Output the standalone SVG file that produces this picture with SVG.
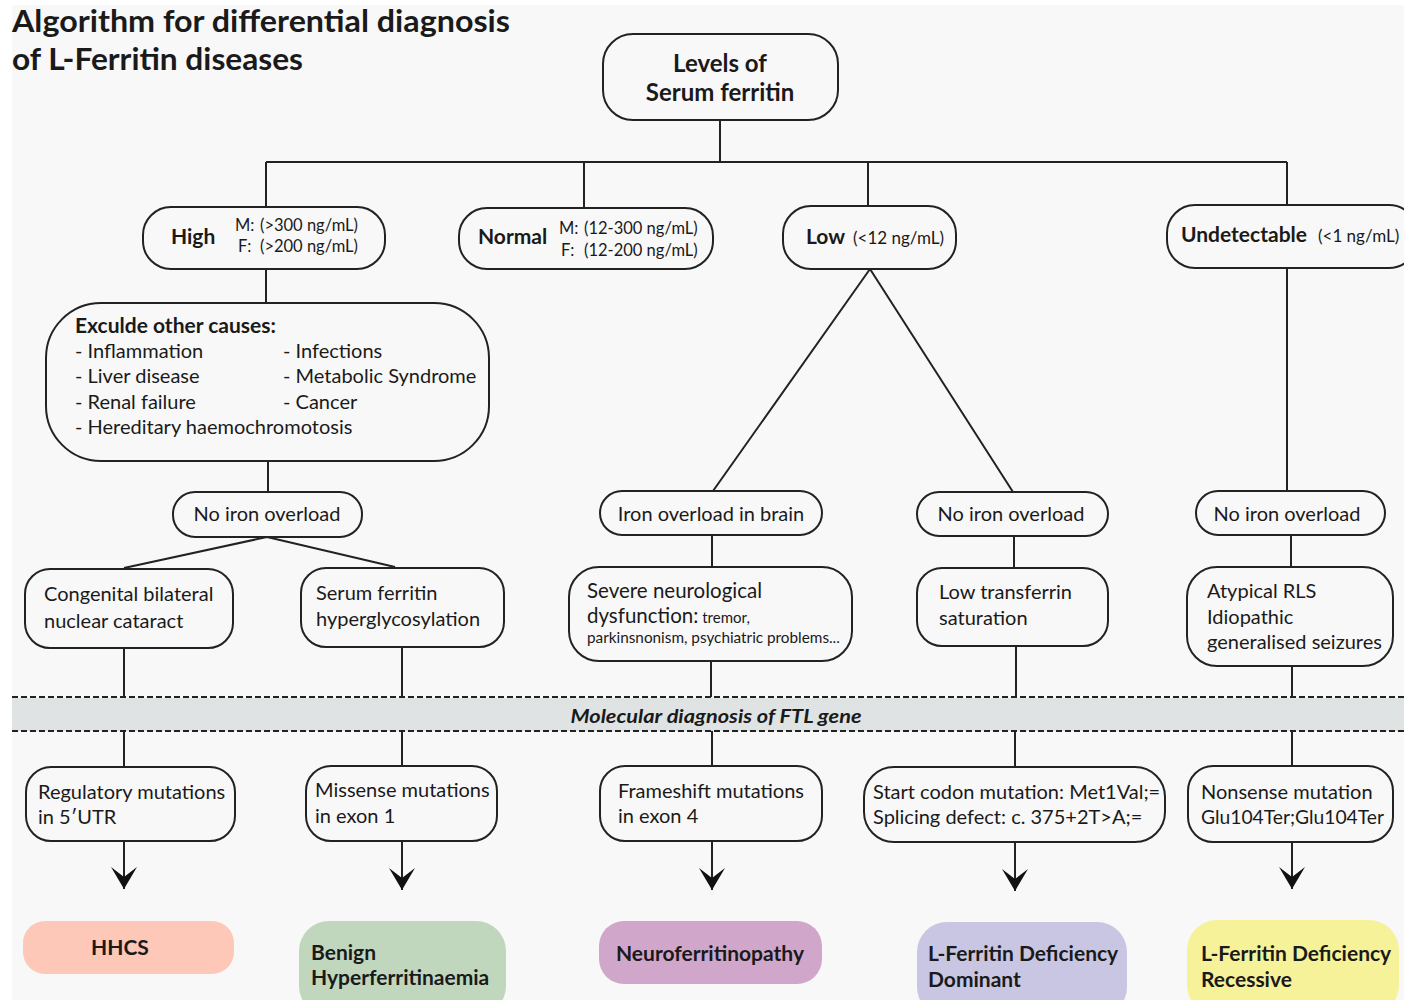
<svg xmlns="http://www.w3.org/2000/svg" width="1404" height="1000" viewBox="0 0 1404 1000">
<defs>
<style>
.bx{fill:none;stroke:#222;stroke-width:2}
.ln{fill:none;stroke:#222;stroke-width:2}
.ds{fill:none;stroke:#222;stroke-width:2;stroke-dasharray:6,3}
text{font-family:"Lato","Liberation Sans",sans-serif;fill:#1a1a1a}
.t{font-size:20px}
.s{font-size:16.5px}
.b{font-weight:bold}
.m{text-anchor:middle}
.bb{font-weight:bold;font-size:21px}
</style>
<marker id="ar" markerUnits="userSpaceOnUse" markerWidth="30" markerHeight="30" viewBox="-25 -15 30 30" refX="0" refY="0" orient="auto">
<path d="M0,0 L-22,-13 L-12,0 L-22,13 Z" fill="#111"/>
</marker>
</defs>
<rect x="0" y="0" width="1404" height="1000" fill="#fff"/>
<rect x="12" y="5" width="1392" height="995" fill="#f8f8f8"/>
<rect x="12" y="698" width="1392" height="33" fill="#dfe3e3"/>

<g id="title">
<text x="12" y="32" class="b" style="font-size:30px" textLength="498" lengthAdjust="spacingAndGlyphs">Algorithm for differential diagnosis</text>
<text x="12" y="70" class="b" style="font-size:30px" textLength="291" lengthAdjust="spacingAndGlyphs">of L-Ferritin diseases</text>
</g>

<g id="connectors">
<path class="ln" d="M720,120 V162 M266,162 H1287 M266,162 V207 M584,162 V208 M868,162 V206 M1287,162 V205"/>
<path class="ln" d="M266,269 V303 M268,461 V492 M267,537 L124,568 M267,537 L395,567"/>
<path class="ln" d="M870,269 L713,491 M870,269 L1013,492 M1287,268 V491"/>
<path class="ln" d="M712,535 V567 M1014,536 V568 M1291,535 V567"/>
<path class="ln" d="M124,648 V697 M402,647 V697 M711,661 V697 M1016,646 V697 M1292,666 V697"/>
<path class="ds" d="M12,697 H1404 M12,731 H1404"/>
<path class="ln" d="M124,731 V767 M402,731 V766 M712,731 V766 M1015,731 V767 M1292,731 V766"/>
<path class="ln" d="M124,841 V889" marker-end="url(#ar)"/>
<path class="ln" d="M402,841 V890" marker-end="url(#ar)"/>
<path class="ln" d="M712,841 V890" marker-end="url(#ar)"/>
<path class="ln" d="M1015,842 V891" marker-end="url(#ar)"/>
<path class="ln" d="M1292,842 V889" marker-end="url(#ar)"/>
</g>

<g id="band">
<text x="716" y="723" class="b m" style="font-size:19px;font-style:italic" textLength="291" lengthAdjust="spacingAndGlyphs">Molecular diagnosis of FTL gene</text>
</g>

<g id="n-levels">
<rect class="bx" x="603" y="34" width="235" height="86" rx="30"/>
<text x="720" y="72" class="b m" style="font-size:24px">Levels of</text>
<text x="720" y="101" class="b m" style="font-size:24px">Serum ferritin</text>
</g>

<g id="n-high">
<rect class="bx" x="143" y="207" width="242" height="62" rx="28"/>
<text x="171" y="244" class="bb">High</text>
<text x="235" y="231" class="s">M:</text><text x="260" y="231" class="s">(&gt;300 ng/mL)</text>
<text x="238" y="252" class="s">F:</text><text x="260" y="252" class="s">(&gt;200 ng/mL)</text>
</g>

<g id="n-normal">
<rect class="bx" x="459" y="208" width="254" height="61" rx="28"/>
<text x="478" y="244" class="bb">Normal</text>
<text x="559" y="234" class="s">M:</text><text x="584" y="234" class="s">(12-300 ng/mL)</text>
<text x="561" y="256" class="s">F:</text><text x="584" y="256" class="s">(12-200 ng/mL)</text>
</g>

<g id="n-low">
<rect class="bx" x="783" y="206" width="173" height="63" rx="28"/>
<text x="806" y="244" class="bb">Low</text>
<text x="853" y="244" style="font-size:17px">(&lt;12 ng/mL)</text>
</g>

<g id="n-undet">
<rect class="bx" x="1167" y="205" width="250" height="63" rx="28"/>
<text x="1181" y="242" class="bb">Undetectable</text>
<text x="1318" y="242" style="font-size:17px">(&lt;1 ng/mL)</text>
</g>

<g id="n-exclude">
<rect class="bx" x="46" y="303" width="443" height="158" rx="55"/>
<text x="75" y="333" class="b" style="font-size:21px">Exculde other causes:</text>
<text x="75" y="358" class="t">- Inflammation</text>
<text x="75" y="383" class="t">- Liver disease</text>
<text x="75" y="409" class="t">- Renal failure</text>
<text x="75" y="434" class="t">- Hereditary haemochromotosis</text>
<text x="283" y="358" class="t">- Infections</text>
<text x="283" y="383" class="t">- Metabolic Syndrome</text>
<text x="283" y="409" class="t">- Cancer</text>
</g>

<g id="n-noiron1">
<rect class="bx" x="173" y="492" width="189" height="45" rx="22"/>
<text x="267" y="521" class="t m">No iron overload</text>
</g>

<g id="n-brain">
<rect class="bx" x="600" y="491" width="222" height="44" rx="22"/>
<text x="711" y="521" class="t m">Iron overload in brain</text>
</g>

<g id="n-noiron2">
<rect class="bx" x="917" y="492" width="191" height="44" rx="22"/>
<text x="1011" y="521" class="t m">No iron overload</text>
</g>

<g id="n-noiron3">
<rect class="bx" x="1196" y="491" width="189" height="44" rx="22"/>
<text x="1287" y="521" class="t m">No iron overload</text>
</g>

<g id="n-cataract">
<rect class="bx" x="25" y="569" width="208" height="79" rx="25"/>
<text x="44" y="601" class="t">Congenital bilateral</text>
<text x="44" y="628" class="t">nuclear cataract</text>
</g>

<g id="n-hyperglyco">
<rect class="bx" x="301" y="568" width="203" height="79" rx="25"/>
<text x="316" y="600" class="t">Serum ferritin</text>
<text x="316" y="626" class="t">hyperglycosylation</text>
</g>

<g id="n-severe">
<rect class="bx" x="569" y="567" width="283" height="94" rx="30"/>
<text x="587" y="598" style="font-size:20.5px">Severe neurological</text>
<text x="587" y="623" style="font-size:20.5px">dysfunction:<tspan style="font-size:15px"> tremor,</tspan></text>
<text x="587" y="643" style="font-size:15.3px">parkinsnonism, psychiatric problems...</text>
</g>

<g id="n-transferrin">
<rect class="bx" x="917" y="568" width="191" height="78" rx="25"/>
<text x="939" y="599" class="t">Low transferrin</text>
<text x="939" y="625" class="t">saturation</text>
</g>

<g id="n-atypical">
<rect class="bx" x="1187" y="567" width="206" height="99" rx="30"/>
<text x="1207" y="598" class="t">Atypical RLS</text>
<text x="1207" y="624" class="t">Idiopathic</text>
<text x="1207" y="649" class="t">generalised seizures</text>
</g>

<g id="n-regulatory">
<rect class="bx" x="26" y="767" width="209" height="74" rx="25"/>
<text x="38" y="799" class="t">Regulatory mutations</text>
<text x="38" y="824" class="t">in 5′UTR</text>
</g>

<g id="n-missense">
<rect class="bx" x="306" y="766" width="191" height="75" rx="25"/>
<text x="315" y="797" class="t">Missense mutations</text>
<text x="315" y="823" class="t">in exon 1</text>
</g>

<g id="n-frameshift">
<rect class="bx" x="600" y="766" width="222" height="75" rx="25"/>
<text x="618" y="798" class="t">Frameshift mutations</text>
<text x="618" y="823" class="t">in exon 4</text>
</g>

<g id="n-startcodon">
<rect class="bx" x="864" y="767" width="301" height="75" rx="30"/>
<text x="873" y="799" class="t">Start codon mutation: Met1Val;=</text>
<text x="873" y="824" class="t">Splicing defect: c. 375+2T&gt;A;=</text>
</g>

<g id="n-nonsense">
<rect class="bx" x="1188" y="766" width="205" height="76" rx="25"/>
<text x="1201" y="799" class="t">Nonsense mutation</text>
<text x="1201" y="824" class="t" textLength="183" lengthAdjust="spacingAndGlyphs">Glu104Ter;Glu104Ter</text>
</g>

<g id="r-hhcs">
<rect x="23" y="921" width="211" height="53" rx="22" fill="#fec8b9"/>
<text x="120" y="955" class="bb m">HHCS</text>
</g>

<g id="r-benign">
<rect x="299" y="921" width="207" height="95" rx="30" fill="#c1d7bd"/>
<text x="311" y="960" class="bb">Benign</text>
<text x="311" y="985" class="bb">Hyperferritinaemia</text>
</g>

<g id="r-neuro">
<rect x="599" y="921" width="223" height="63" rx="25" fill="#d0a6cb"/>
<text x="710" y="961" class="bb m">Neuroferritinopathy</text>
</g>

<g id="r-dominant">
<rect x="917" y="922" width="210" height="95" rx="30" fill="#c8c6e2"/>
<text x="928" y="961" class="bb">L-Ferritin Deficiency</text>
<text x="928" y="987" class="bb">Dominant</text>
</g>

<g id="r-recessive">
<rect x="1187" y="920" width="212" height="95" rx="30" fill="#f6f29a"/>
<text x="1201" y="961" class="bb">L-Ferritin Deficiency</text>
<text x="1201" y="987" class="bb">Recessive</text>
</g>
</svg>
